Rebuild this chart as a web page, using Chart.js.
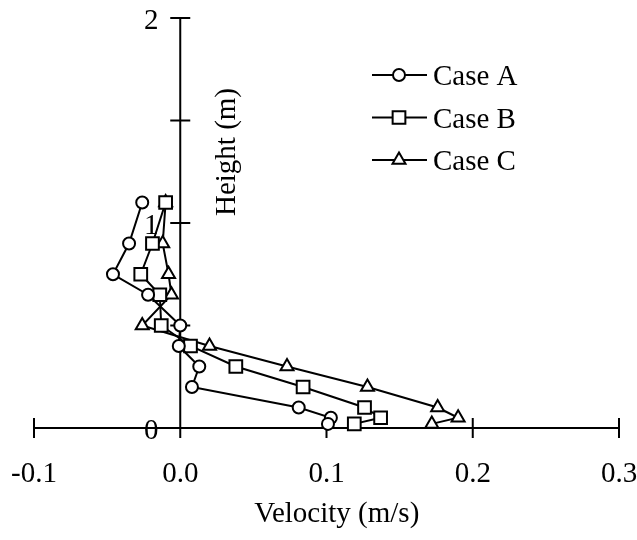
<!DOCTYPE html>
<html>
<head>
<meta charset="utf-8">
<script src="https://cdn.jsdelivr.net/npm/chart.js@4/dist/chart.umd.min.js"></script>
<style>
  html, body { margin: 0; padding: 0; background: #fff; }
  #wrap { width: 637px; height: 540px; }
</style>
</head>
<body>
<div id="wrap"><canvas id="c" width="637" height="540"></canvas></div>
<script>
// Velocity profiles (m/s vs height in m).
const heights = [1.1, 0.9, 0.75, 0.65, 0.5, 0.4, 0.3, 0.2, 0.1, 0.05, 0.02];
const caseA = [-0.026, -0.035, -0.046, -0.022, 0.000, -0.001, 0.013, 0.008, 0.081, 0.103, 0.101];
const caseB = [-0.010, -0.019, -0.027, -0.014, -0.013, 0.007, 0.038, 0.084, 0.126, 0.137, 0.119];
const caseC = [-0.010, -0.012, -0.008, -0.006, -0.026, 0.020, 0.073, 0.128, 0.176, 0.190, 0.172];

const seriesNames = ["Case A", "Case B", "Case C"];
const xTicks = [-0.1, 0, 0.1, 0.2, 0.3];
const xTickLabels = ["-0.1", "0.0", "0.1", "0.2", "0.3"];
const yTicks = [0, 0.5, 1, 1.5, 2];
const yTickLabels = ["0", "", "1", "", "2"];

const FONT = '29px "Liberation Serif", "Times New Roman", serif';
const markers = [
  { style: "circle", r: 6 },
  { style: "rect", r: 9 },
  { style: "triangle", r: 7.5 },
];

function toPoints(xs) {
  return xs.map((x, i) => ({ x, y: heights[i] }));
}

function mark(ctx, m, x, y) {
  ctx.save();
  ctx.fillStyle = "#fff";
  ctx.strokeStyle = "#000";
  ctx.lineWidth = 2;
  Chart.helpers.drawPoint(ctx, { pointStyle: m.style, radius: m.r, rotation: 0, borderWidth: 2 }, x, y);
  ctx.restore();
}

// Axes cross at the origin, with cross-style ticks; labels drawn by hand.
const axesPlugin = {
  id: "crossAxes",
  beforeDatasetsDraw(chart) {
    const { ctx, scales: { x, y } } = chart;
    const x0 = x.getPixelForValue(0);
    const y0 = y.getPixelForValue(0);
    ctx.save();
    ctx.strokeStyle = "#000";
    ctx.lineWidth = 2;
    ctx.beginPath();
    ctx.moveTo(x.getPixelForValue(-0.1), y0);
    ctx.lineTo(x.getPixelForValue(0.3), y0);
    ctx.moveTo(x0, y.getPixelForValue(0));
    ctx.lineTo(x0, y.getPixelForValue(2));
    xTicks.forEach((v) => {
      const px = x.getPixelForValue(v);
      ctx.moveTo(px, y0 - 10);
      ctx.lineTo(px, y0 + 10);
    });
    yTicks.forEach((v) => {
      const py = y.getPixelForValue(v);
      ctx.moveTo(x0 - 10, py);
      ctx.lineTo(x0 + 10, py);
    });
    ctx.stroke();

    ctx.fillStyle = "#000";
    ctx.font = FONT;
    ctx.textAlign = "center";
    ctx.textBaseline = "alphabetic";
    xTicks.forEach((v, i) => {
      ctx.fillText(xTickLabels[i], x.getPixelForValue(v), y0 + 54);
    });
    yTicks.forEach((v, i) => {
      if (!yTickLabels[i]) return;
      ctx.fillText(yTickLabels[i], x0 - 29, y.getPixelForValue(v) + 11);
    });
    ctx.fillText("Velocity (m/s)", x.getPixelForValue(0.107), 522);

    ctx.translate(235, 152);
    ctx.rotate(-Math.PI / 2);
    ctx.fillText("Height (m)", 0, 0);
    ctx.restore();
  },
  afterDatasetsDraw(chart) {
    const { ctx } = chart;
    ctx.save();
    seriesNames.forEach((name, i) => {
      const cy = 75 + i * 42.5;
      ctx.strokeStyle = "#000";
      ctx.lineWidth = 2;
      ctx.beginPath();
      ctx.moveTo(372, cy);
      ctx.lineTo(427, cy);
      ctx.stroke();
      mark(ctx, markers[i], 399, cy);
      ctx.fillStyle = "#000";
      ctx.font = FONT;
      ctx.textAlign = "left";
      ctx.textBaseline = "alphabetic";
      ctx.fillText(name, 433, cy + 10);
    });
    ctx.restore();
  },
};

function dataset(label, xs, m) {
  return {
    label,
    data: toPoints(xs),
    showLine: true,
    borderColor: "#000",
    borderWidth: 2,
    backgroundColor: "#fff",
    pointStyle: m.style,
    pointRadius: m.r,
    pointBorderWidth: 2,
    pointBackgroundColor: "#fff",
    pointBorderColor: "#000",
    tension: 0,
    clip: false,
  };
}

new Chart(document.getElementById("c"), {
  type: "scatter",
  data: {
    datasets: [
      dataset(seriesNames[0], caseA, markers[0]),
      dataset(seriesNames[1], caseB, markers[1]),
      dataset(seriesNames[2], caseC, markers[2]),
    ],
  },
  options: {
    responsive: false,
    animation: false,
    devicePixelRatio: 1,
    layout: { padding: { left: 34, right: 18, top: 18, bottom: 112 } },
    scales: {
      x: { type: "linear", min: -0.1, max: 0.3, display: false },
      y: { type: "linear", min: 0, max: 2, display: false },
    },
    plugins: { legend: { display: false }, tooltip: { enabled: false } },
  },
  plugins: [axesPlugin],
});
</script>
</body>
</html>
